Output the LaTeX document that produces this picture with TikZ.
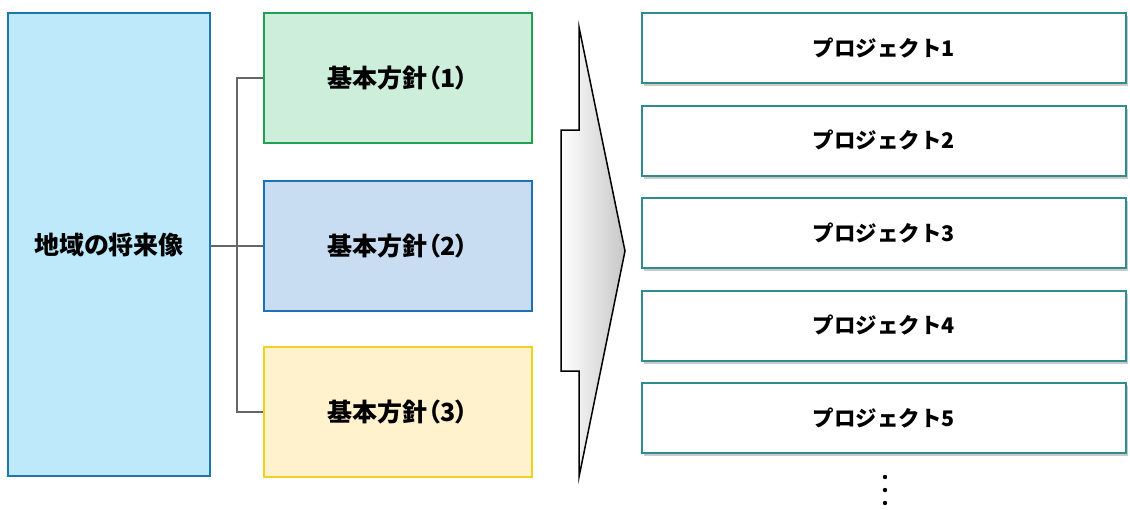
\documentclass[tikz,border=0pt]{standalone}
\usepackage{fontspec}
\usetikzlibrary{shadows}
\newfontfamily\jp{Noto Sans CJK JP}
\newfontfamily\jpp{Noto Sans CJK JP}[RawFeature=+palt]
\definecolor{lfill}{HTML}{BDE9FA}
\definecolor{ldraw}{HTML}{1C78A8}
\definecolor{gfill}{HTML}{CDEEDB}
\definecolor{gdraw}{HTML}{20A050}
\definecolor{bfill}{HTML}{C8DDF2}
\definecolor{bdraw}{HTML}{2070B8}
\definecolor{yfill}{HTML}{FFF2CC}
\definecolor{ydraw}{HTML}{F0D020}
\definecolor{pdraw}{HTML}{2E8B8E}
\definecolor{conn}{HTML}{666666}
\tikzset{
  bigbox/.style={rectangle, inner sep=0pt, line width=2.5pt, anchor=center,
    font=\jpp\bfseries\fontsize{25}{29}\selectfont},
  policybox/.style={bigbox, minimum width=268pt, minimum height=130pt},
  projbox/.style={rectangle, inner sep=0pt, line width=2pt, draw=pdraw, fill=white,
    minimum width=484pt, minimum height=70pt, anchor=center,
    drop shadow={shadow xshift=2pt, shadow yshift=-3pt, opacity=0.35, fill=black!60},
    font=\jp\bfseries\fontsize{21.5}{25}\selectfont},
  connector/.style={draw=conn, line width=1.6pt},
  dotmark/.style={fill=black}
}
\begin{document}
\begin{tikzpicture}[x=1pt,y=-1pt]
\useasboundingbox (0,0) rectangle (1130,509);
\node[bigbox, draw=ldraw, fill=lfill, minimum width=202pt, minimum height=463pt] (L) at (109,244.5) {地域の将来像};
\node[policybox, draw=gdraw, fill=gfill] (G) at (398,78) {基本方針（1）};
\node[policybox, draw=bdraw, fill=bfill] (B) at (398,246) {基本方針（2）};
\node[policybox, draw=ydraw, fill=yfill] (Y) at (398,412) {基本方針（3）};
\coordinate (J) at (237,246);
\draw[connector] (G.west) -- (G.west -| J) -- (Y.west -| J) -- (Y.west);
\draw[connector] (L.east |- B.west) -- (B.west);
\shade[left color=white, right color=black!22, draw=black, line width=1.5pt, line join=miter]
  (579,27) -- (625,251) -- (579,477) -- (579,371) -- (561,371) -- (561,130) -- (579,130) -- cycle;
\node[projbox] (P1) at (884,48) {プロジェクト1};
\node[projbox] (P2) at (884,140.5) {プロジェクト2};
\node[projbox] (P3) at (884,233) {プロジェクト3};
\node[projbox] (P4) at (884,325.5) {プロジェクト4};
\node[projbox] (P5) at (884,418) {プロジェクト5};
\fill[dotmark] (885,477) circle (2.2pt);
\fill[dotmark] (885,490) circle (2.2pt);
\fill[dotmark] (885,503) circle (2.2pt);
\end{tikzpicture}
\end{document}
